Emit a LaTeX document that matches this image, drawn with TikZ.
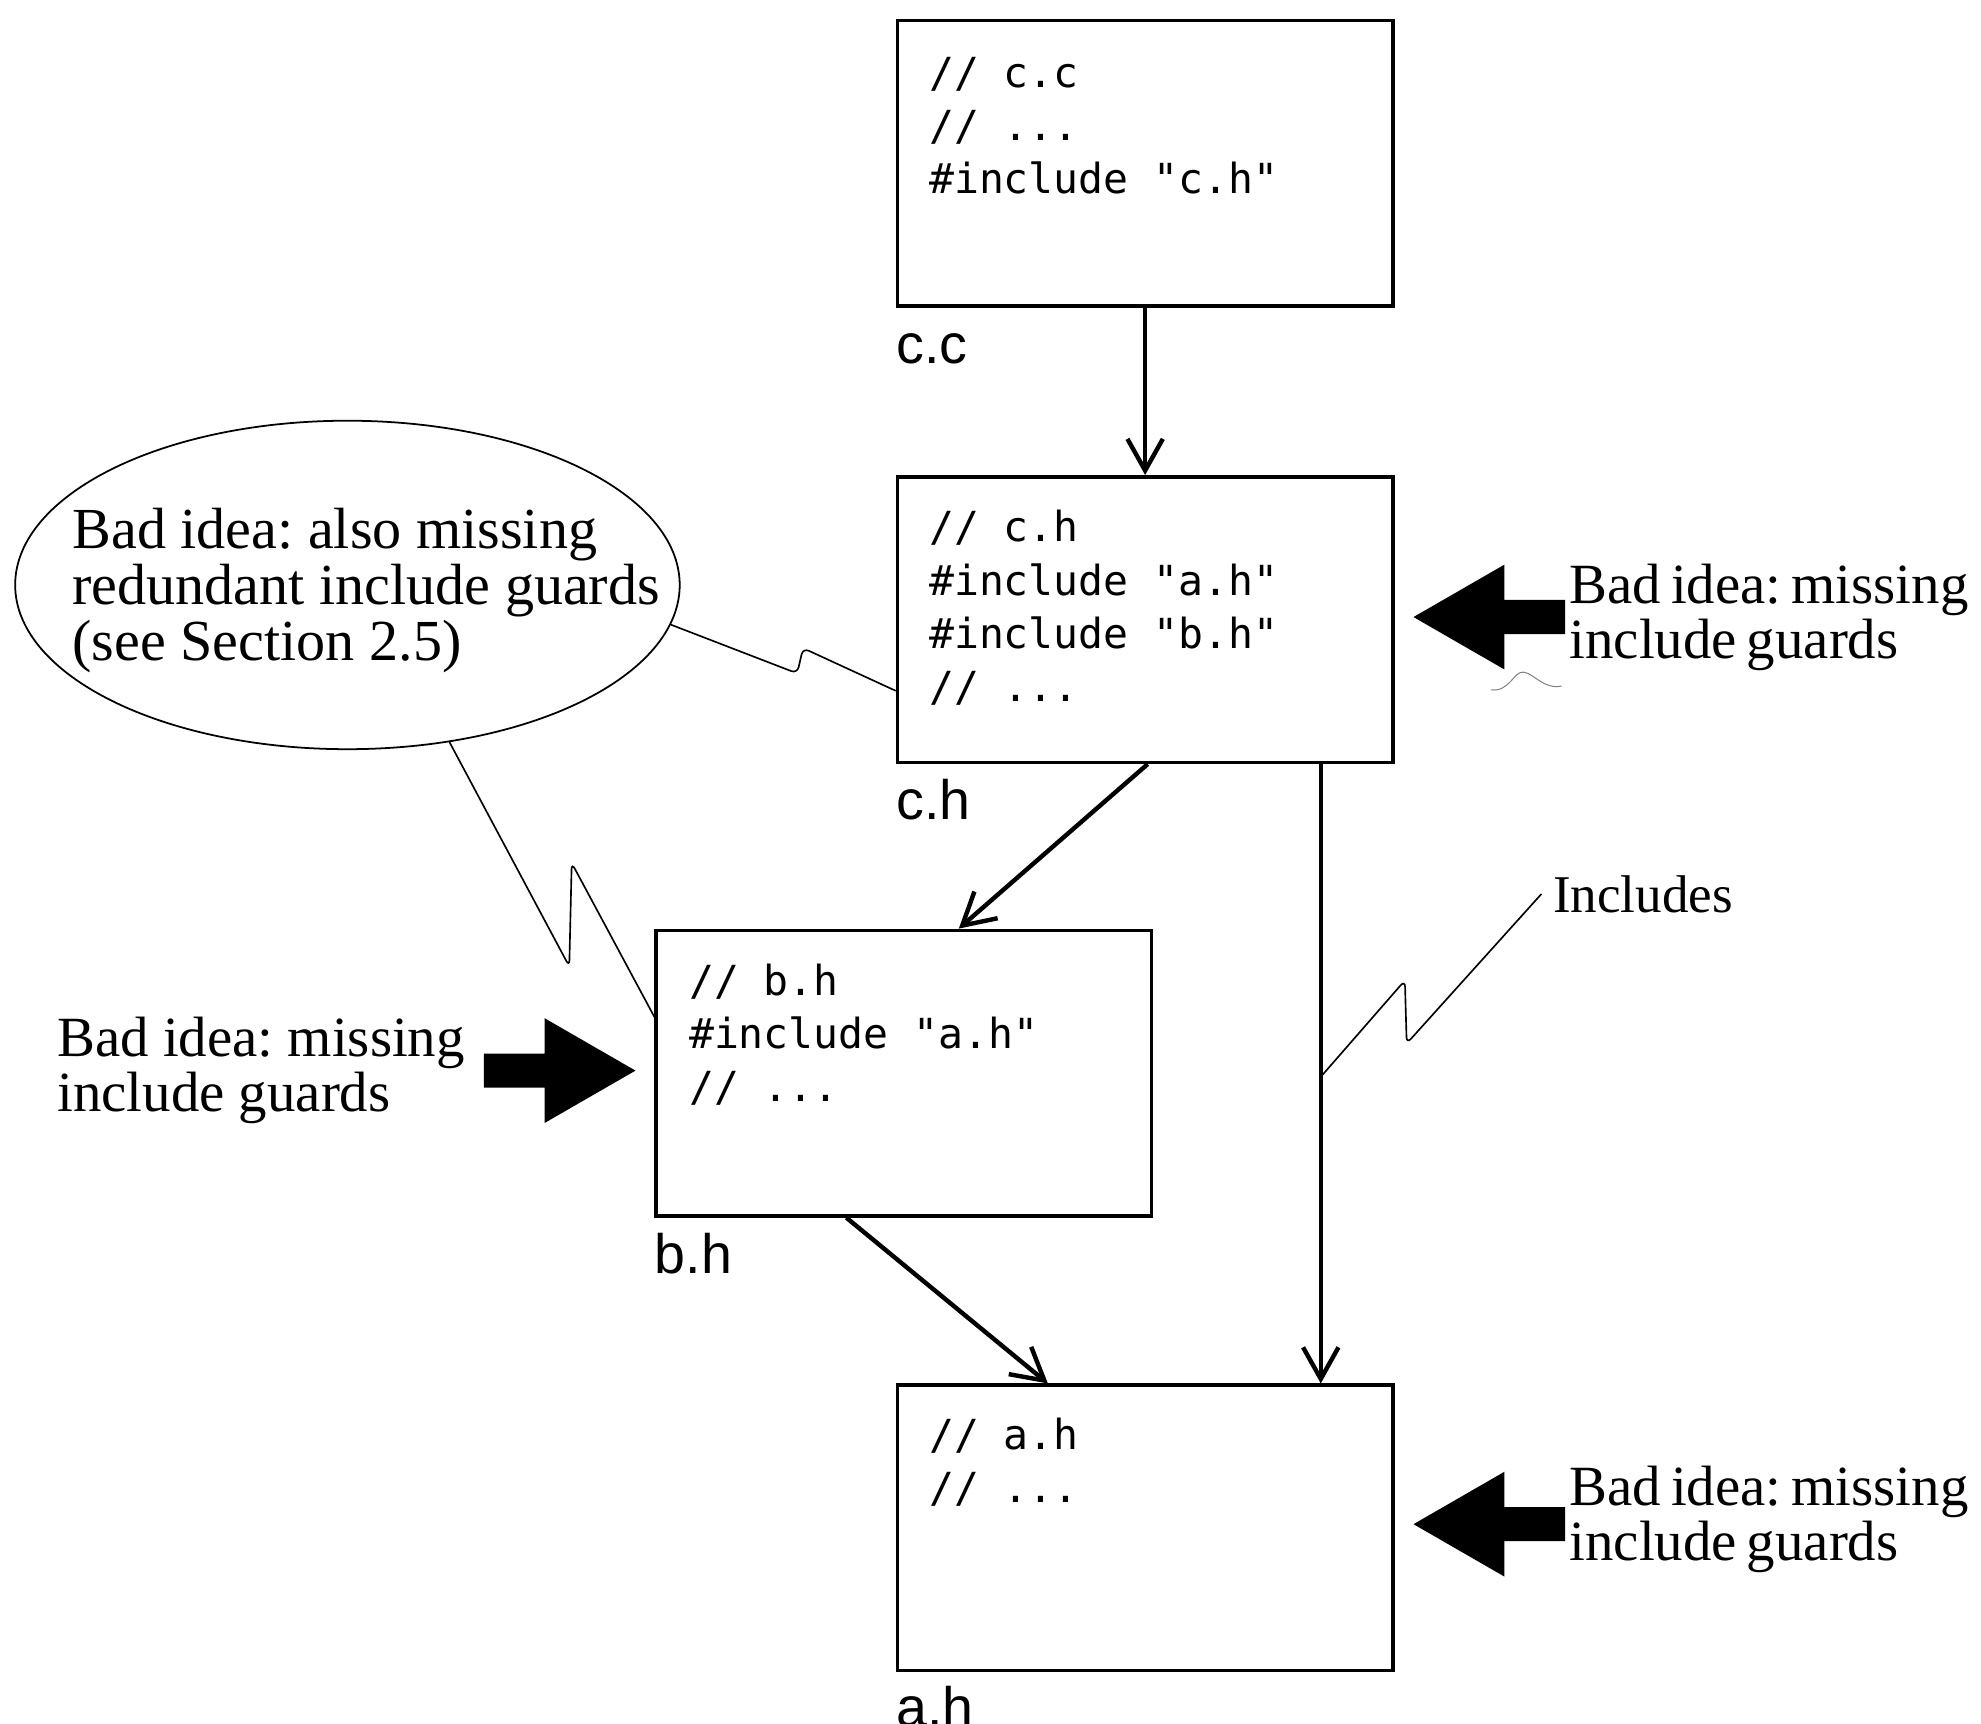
\documentclass[tikz,border=0pt]{standalone}
\usepackage{fontspec}
\setmainfont{Liberation Serif}
\setsansfont{Liberation Sans}
\setmonofont{DejaVu Sans Mono}
\newfontfamily\tightserif[WordSpace=0.7]{Liberation Serif}
\usetikzlibrary{shapes.geometric,arrows.meta,calc}
\newcommand\linesof[1]{\begin{tabular}[t]{@{}l@{}}#1\end{tabular}}
\frenchspacing
\begin{document}
\begin{tikzpicture}[x=0.5pt,y=-0.5pt,
  filebox/.style={draw, line width=1.4pt, minimum width=196pt, minimum height=113pt, anchor=north west, inner sep=0pt},
  code/.style={font=\fontsize{16.4pt}{21pt}\selectfont\ttfamily, anchor=base west, inner sep=0pt},
  fname/.style={font=\fontsize{22pt}{24pt}\selectfont\sffamily, anchor=base west, inner sep=0pt},
  remark/.style={font=\fontsize{22.5pt}{20.6pt}\selectfont, anchor=base west, inner sep=0pt},
  incl/.style={-{Straight Barb[length=12.5pt,width=14pt]}, line width=1.75pt},
  callout/.style={line width=0.65pt, rounded corners=2.5pt},
  badarrow/.pic={\fill (0,0) -- (72,-41.5) -- (72,-13.5) -- (120,-13.5) -- (120,13.5) -- (72,13.5) -- (72,41.5) -- cycle;}
]
\useasboundingbox (0,0) rectangle (1568,1364);

% file boxes
\node[filebox] (cc) at (709,15) {};
\node[filebox] (ch) at (709,376) {};
\node[filebox] (bh) at (518,735) {};
\node[filebox] (ah) at (709,1095) {};

% code
\node[code] (cctext) at ($(cc.north west)+(26,54)$) {\linesof{// c.c\\// ...\\\#include "c.h"}};
\node[code] (chtext) at ($(ch.north west)+(26,53)$) {\linesof{// c.h\\\#include "a.h"\\\#include "b.h"\\// ...}};
\node[code] (bhtext) at ($(bh.north west)+(27,53)$) {\linesof{// b.h\\\#include "a.h"\\// ...}};
\node[code] (ahtext) at ($(ah.north west)+(26,52)$) {\linesof{// a.h\\// ...}};

% file names
\node[fname] (cclabel) at ($(cc.south west)+(0,44)$) {c.c};
\node[fname] (chlabel) at ($(ch.south west)+(0,44)$) {c.h};
\node[fname] (bhlabel) at ($(bh.south west)+(0,44)$) {b.h};
\node[fname] (ahlabel) at ($(ah.south west)+(0,43)$) {a.h};

% include arrows
\draw[incl] (cc.south) -- (ch.north);
\draw[incl] ($(ch.south)+(2,0)$) -- ($(bh.north)+(43.5,0)$);
\draw[incl] ($(bh.south)+(-45.5,0)$) -- ($(ah.north)+(-77,0)$);
\draw[incl] ($(ch.south)+(139,0)$) -- coordinate[pos=0.505] (inclpt) ($(ah.north)+(139,0)$);

% ellipse note
\node[draw, ellipse, line width=0.7pt, minimum width=263pt, minimum height=130pt, inner sep=0pt] (note) at (275,463) {};
\node[remark, font=\fontsize{23pt}{20.8pt}\selectfont] (notetext) at (57,434) {\linesof{Bad idea: also missing\\redundant include guards\\(see Section 2.5)}};

% callouts
\draw[callout] (note.-7) -- (631,533) -- (635.6,513) -- ($(ch.south west)+(0,-58)$);
\draw[callout] (note.-57.5) -- (450.6,765) -- (452.5,683) -- ($(bh.north west)+(0,70)$);
\node[remark, font=\fontsize{21pt}{22pt}\selectfont, inner sep=4.5pt] (inclabel) at (1220,722) {Includes};
\draw[callout] (inclabel.west) -- (1113.4,826) -- (1112,776) -- (inclpt);

% big black pointers
\pic at ($(ch.east)+(15,-2)$) {badarrow};
\pic at ($(ah.east)+(15,-3)$) {badarrow};
\pic[rotate=180] at ($(bh.west)+(-15,-2)$) {badarrow};

\node[remark, font=\fontsize{22.5pt}{20pt}\tightserif] (chnote) at (1242,478) {\linesof{Bad idea: missing\\include guards}};
\node[remark, font=\fontsize{22.5pt}{20pt}\tightserif] (ahnote) at (1242,1192) {\linesof{Bad idea: missing\\include guards}};
\node[remark] (bhnote) at (45,836) {\linesof{Bad idea: missing\\include guards}};

% faint squiggle
\draw[gray, line width=0.4pt] (1180,546) .. controls (1195,548) and (1198,531) .. (1206,532) .. controls (1214,533) and (1222,546) .. (1236,543);
\end{tikzpicture}
\end{document}
